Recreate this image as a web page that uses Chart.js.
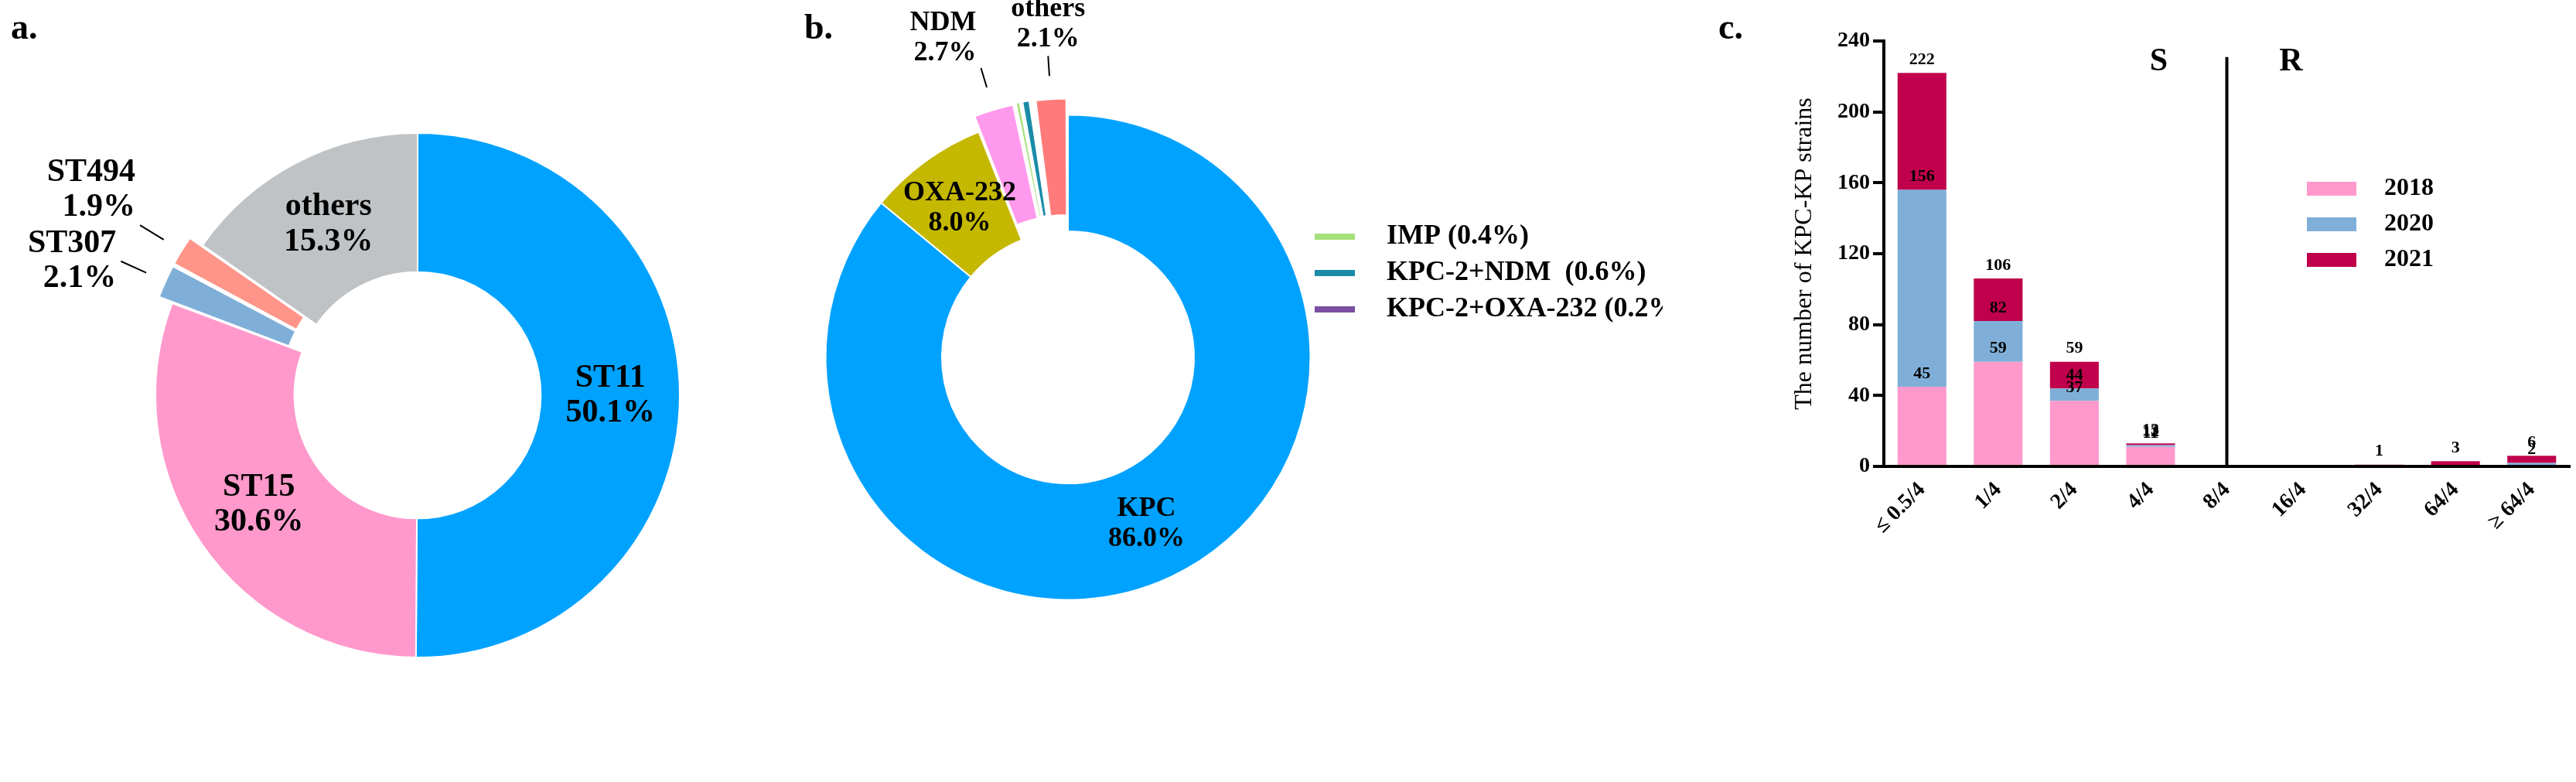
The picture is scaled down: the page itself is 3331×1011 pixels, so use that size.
<!DOCTYPE html>
<html>
<head>
<meta charset="utf-8">
<script src="https://cdn.jsdelivr.net/npm/chart.js@4/dist/chart.umd.min.js"></script>
<style>
  body { margin: 0; background: #fff; }
  #page { position: relative; width: 3331px; height: 1011px; overflow: hidden; }
  canvas { position: absolute; top: 0; }
  .tag { position: absolute; top: 8px; font: bold 46px "Liberation Serif"; }
</style>
</head>
<body>
<div id="page">
  <canvas id="pieA" style="left:0px"></canvas>
  <canvas id="pieB" style="left:1000px"></canvas>
  <canvas id="barC" style="left:2150px"></canvas>
  <div class="tag" style="left:14px">a.</div>
  <div class="tag" style="left:1040px">b.</div>
  <div class="tag" style="left:2222px">c.</div>
</div>
<script>
// panel a: sequence types
const stLabels = ['ST11', 'ST15', 'ST307', 'ST494', 'others'];
const stValues = [50.1, 30.6, 2.1, 1.9, 15.3];
const stColors = ['#00a2ff', '#ff99cc', '#7fafd8', '#ff9488', '#bfc3c5'];
const stOffsets = [0, 0, 40, 40, 0];
const stOutside = [false, false, true, true, false];

// panel b: carbapenemase genes
const geneLabels = ['KPC', 'OXA-232', 'NDM', 'IMP', 'KPC-2+NDM', 'KPC-2+OXA-232', 'others'];
const geneValues = [86.0, 8.0, 2.7, 0.4, 0.6, 0.2, 2.1];
const geneColors = ['#00a2ff', '#c4b800', '#ff99ee', '#a5e07a', '#1a8ca8', '#7a4fa0', '#ff7b7b'];
const geneOffsets = [0, 0, 45, 45, 45, 45, 45];
const geneOutside = [false, false, true, false, false, false, true];
const geneLegend = ['IMP (0.4%)', 'KPC-2+NDM  (0.6%)', 'KPC-2+OXA-232 (0.2%)'];
const geneLegendIdx = [3, 4, 5];

// panel c: MIC distribution
const micLabels = ['\u2264 0.5/4', '1/4', '2/4', '4/4', '8/4', '16/4', '32/4', '64/4', '\u2265 64/4'];
const years = ['2018', '2020', '2021'];
const yearColors = ['#ff99cc', '#7fafd8', '#c0004c'];
const n2018 = [45, 59, 37, 11, 0, 0, 0, 0, 0];
const n2020 = [111, 23, 7, 1, 0, 0, 0, 0, 2];
const n2021 = [66, 24, 15, 1, 0, 0, 1, 3, 4];
const yTicks = [0, 40, 80, 120, 160, 200, 240];

const serif = '"Liberation Serif", "DejaVu Serif", serif';

// labels on doughnut slices; outside ones get a leader line
function sliceLabels(texts, values, outside, size, lead) {
  return {
    id: 'sliceLabels',
    afterDatasetsDraw(chart) {
      const ctx = chart.ctx;
      const arcs = chart.getDatasetMeta(0).data;
      ctx.save();
      ctx.fillStyle = '#000';
      ctx.strokeStyle = '#000';
      ctx.lineWidth = 2;
      ctx.font = 'bold ' + size + 'px ' + serif;
      const lh = size * 1.08;
      arcs.forEach((arc, i) => {
        const lines = [texts[i], values[i].toFixed(1) + '%'];
        if (!outside[i]) {
          if (values[i] < 5) return;
          const p = arc.tooltipPosition();
          ctx.textAlign = 'center';
          ctx.textBaseline = 'middle';
          ctx.fillText(lines[0], p.x, p.y - lh / 2);
          ctx.fillText(lines[1], p.x, p.y + lh / 2);
          return;
        }
        const mid = (arc.startAngle + arc.endAngle) / 2;
        const dx = Math.cos(mid), dy = Math.sin(mid);
        const off = arc.options.offset;
        const r0 = arc.outerRadius + off + 6;
        const r1 = r0 + lead;
        const x0 = arc.x + dx * r0, y0 = arc.y + dy * r0;
        const x1 = arc.x + dx * r1, y1 = arc.y + dy * r1;
        ctx.beginPath();
        ctx.moveTo(x0, y0);
        ctx.lineTo(x1, y1);
        ctx.stroke();
        ctx.textBaseline = 'middle';
        if (Math.abs(dx) < 0.2) {
          ctx.textAlign = 'center';
          ctx.fillText(lines[0], x1, y1 - lh * 1.5 - 2);
          ctx.fillText(lines[1], x1, y1 - lh * 0.5 - 2);
        } else {
          ctx.textAlign = dx < 0 ? 'right' : 'left';
          const tx = x1 + (dx < 0 ? -6 : 6);
          const ty = dy < -0.45 ? y1 - lh * 1.5 : y1 - lh * 0.5;
          ctx.fillText(lines[0], tx, ty);
          ctx.fillText(lines[1], tx, ty + lh);
        }
      });
      ctx.restore();
    }
  };
}

function pie(id, w, labels, values, colors, offsets, cutout, pad, plugins) {
  const el = document.getElementById(id);
  el.width = w;
  el.height = 1011;
  el.style.width = w + 'px';
  el.style.height = '1011px';
  return new Chart(el, {
    type: 'doughnut',
    data: {
      labels: labels,
      datasets: [{
        data: values,
        backgroundColor: colors,
        borderColor: '#fff',
        borderWidth: 2,
        offset: offsets
      }]
    },
    options: {
      responsive: false,
      animation: false,
      cutout: cutout,
      layout: { padding: pad },
      plugins: { legend: { display: false }, tooltip: { enabled: false } }
    },
    plugins: plugins
  });
}

pie('pieA', 1000, stLabels, stValues, stColors, stOffsets, '47%',
  { left: 180, right: 100, top: 151, bottom: 140 },
  [sliceLabels(stLabels, stValues, stOutside, 42, 36)]);

// legend for the tiny slices of panel b
const geneLegendPlugin = {
  id: 'geneLegend',
  afterDraw(chart) {
    const ctx = chart.ctx;
    ctx.save();
    ctx.font = 'bold 36px ' + serif;
    ctx.textBaseline = 'middle';
    ctx.textAlign = 'left';
    geneLegend.forEach((t, k) => {
      const y = 306 + k * 47;
      ctx.fillStyle = geneColors[geneLegendIdx[k]];
      ctx.fillRect(700, y - 4, 52, 8);
      ctx.fillStyle = '#000';
      ctx.fillText(t, 793, y);
    });
    ctx.restore();
  }
};
pie('pieB', 1150, geneLabels, geneValues, geneColors, geneOffsets, '52%',
  { left: 44, right: 432, top: 125, bottom: 212 },
  [sliceLabels(geneLabels, geneValues, geneOutside, 36, 26), geneLegendPlugin]);

// panel c: stacked bars with cumulative labels, S/R divider and legend
const seriesC = [n2018, n2020, n2021];
const barExtras = {
  id: 'barExtras',
  afterDatasetsDraw(chart) {
    const ctx = chart.ctx;
    const x = chart.scales.x, y = chart.scales.y;
    ctx.save();
    ctx.fillStyle = '#000';
    ctx.font = 'bold 22px ' + serif;
    ctx.textAlign = 'center';
    ctx.textBaseline = 'bottom';
    micLabels.forEach((m, i) => {
      let cum = 0;
      seriesC.forEach(s => {
        cum += s[i];
        if (s[i] > 0) ctx.fillText(String(cum), x.getPixelForValue(i), y.getPixelForValue(cum) - 6);
      });
    });
    // S / R divider at 8/4
    const xd = x.getPixelForValue(4);
    ctx.strokeStyle = '#000';
    ctx.lineWidth = 4;
    ctx.beginPath();
    ctx.moveTo(xd, y.getPixelForValue(231));
    ctx.lineTo(xd, y.bottom);
    ctx.stroke();
    ctx.font = 'bold 42px ' + serif;
    ctx.textBaseline = 'middle';
    ctx.fillText('S', xd - 88, 80);
    ctx.fillText('R', xd + 83, 80);
    // legend
    ctx.font = 'bold 32px ' + serif;
    ctx.textAlign = 'left';
    years.forEach((yr, k) => {
      const ly = 244 + k * 46;
      ctx.fillStyle = yearColors[k];
      ctx.fillRect(833, ly - 9, 64, 18);
      ctx.fillStyle = '#000';
      ctx.fillText(yr, 933, ly);
    });
    ctx.restore();
  }
};

const barEl = document.getElementById('barC');
barEl.width = 1181;
barEl.height = 1011;
barEl.style.width = '1181px';
barEl.style.height = '1011px';
new Chart(barEl, {
  type: 'bar',
  data: {
    labels: micLabels,
    datasets: years.map((yr, k) => ({
      label: yr,
      data: seriesC[k],
      backgroundColor: yearColors[k],
      categoryPercentage: 0.64,
      barPercentage: 1
    }))
  },
  options: {
    responsive: false,
    animation: false,
    layout: { padding: { left: 160, right: 8, top: 53, bottom: 0 } },
    plugins: { legend: { display: false }, tooltip: { enabled: false } },
    scales: {
      x: {
        stacked: true,
        grid: { display: false },
        border: { color: '#000', width: 4 },
        ticks: {
          color: '#000', minRotation: 45, maxRotation: 45, padding: 6,
          font: { family: serif, size: 28, weight: 'bold' }
        },
        afterFit(s) { s.height = 408; }
      },
      y: {
        stacked: true,
        min: 0, max: 240,
        afterBuildTicks(s) { s.ticks = yTicks.map(v => ({ value: v })); },
        grid: { drawOnChartArea: false, color: '#000', lineWidth: 4, tickLength: 14 },
        border: { color: '#000', width: 4 },
        ticks: {
          color: '#000', padding: 4,
          font: { family: serif, size: 28, weight: 'bold' }
        },
        title: {
          display: true, text: 'The number of KPC-KP strains', color: '#000',
          font: { family: serif, size: 32 }, padding: { bottom: 6 }
        },
        afterFit(s) { s.width = 126; }
      }
    }
  },
  plugins: [barExtras]
});
</script>
</body>
</html>
